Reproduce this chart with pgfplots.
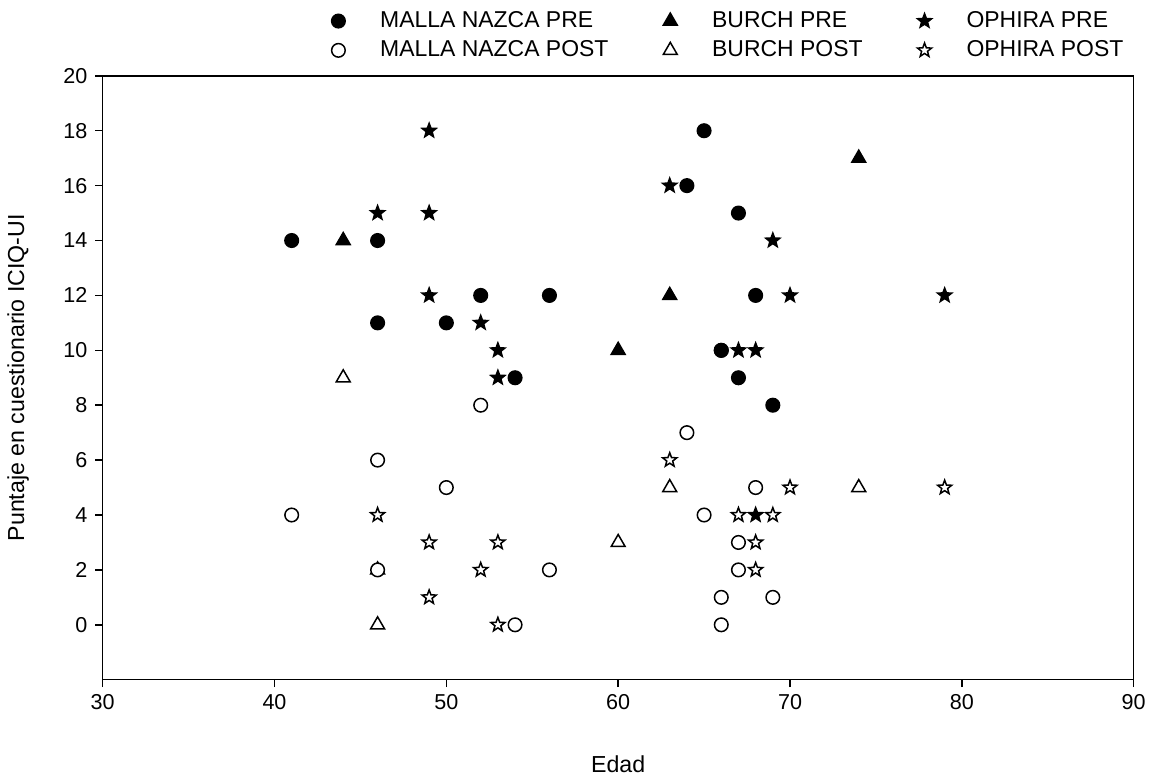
\documentclass[border=0pt]{standalone}
\usepackage{fontspec}
\setmainfont{Liberation Sans}
\usepackage{pgfplots}
\pgfplotsset{compat=1.18}

% five-pointed star mark, filled with the current fill colour
\pgfdeclareplotmark{pstar}{%
  \pgfpathmoveto{\pgfpointpolar{90}{\pgfplotmarksize}}%
  \pgfpathlineto{\pgfpointpolar{126}{0.42\pgfplotmarksize}}%
  \pgfpathlineto{\pgfpointpolar{162}{\pgfplotmarksize}}%
  \pgfpathlineto{\pgfpointpolar{198}{0.42\pgfplotmarksize}}%
  \pgfpathlineto{\pgfpointpolar{234}{\pgfplotmarksize}}%
  \pgfpathlineto{\pgfpointpolar{270}{0.42\pgfplotmarksize}}%
  \pgfpathlineto{\pgfpointpolar{306}{\pgfplotmarksize}}%
  \pgfpathlineto{\pgfpointpolar{342}{0.42\pgfplotmarksize}}%
  \pgfpathlineto{\pgfpointpolar{18}{\pgfplotmarksize}}%
  \pgfpathlineto{\pgfpointpolar{54}{0.42\pgfplotmarksize}}%
  \pgfpathclose
  \pgfusepathqfillstroke}

\begin{document}
\fontsize{11}{13}\selectfont
\begin{tikzpicture}
\begin{axis}[
  scale only axis,
  width=516.5pt, height=302.5pt,
  xmin=30, xmax=90, ymin=-2, ymax=20,
  xtick={30,40,...,90},
  ytick={0,2,...,20},
  tick align=outside,
  xtick pos=bottom, ytick pos=left,
  major tick length=3.75pt,
  axis line style={line width=0.75pt},
  every tick/.style={black, line width=0.75pt},
  /pgf/number format/assume math mode=true,
  tick label style={font=\fontsize{10.8}{13}\selectfont},
  label style={font=\fontsize{11.6}{14}\selectfont},
  xlabel={Edad},
  ylabel={Puntaje en cuestionario ICIQ-UI},
  xlabel style={at={(axis description cs:0.5,-0.1405)}, anchor=center},
  ylabel style={at={(axis description cs:-0.082,0.5)}, anchor=center},
  clip=false,
  legend columns=3,
  legend cell align=left,
  legend style={draw=none, fill=none, inner sep=0pt,
    at={(axis description cs:0.2217,1.114)}, anchor=north west,
    font=\fontsize{11.5}{13.5}\selectfont,
    row sep=1pt,
    /tikz/every odd column/.append style={column sep=15.5pt},
    /tikz/every even column/.append style={column sep=25.5pt}},
  every axis plot/.append style={only marks, black, line width=0.75pt},
]
% MALLA NAZCA PRE
\addplot[mark=*, mark size=3.4pt] coordinates {
 (41,14) (46,14) (46,11) (50,11) (52,12) (56,12) (54,9)
 (65,18) (64,16) (67,15) (68,12) (66,10) (66,10) (67,9) (69,8)};
\addlegendentry{MALLA NAZCA PRE}
% BURCH PRE
\addplot[mark=triangle*, mark size=4pt] coordinates {
 (44,14) (46,2) (60,10) (63,12) (74,17)};
\addlegendentry{BURCH PRE}
% OPHIRA PRE
\addplot[mark=pstar, mark size=3.7pt] coordinates {
 (46,15) (49,18) (49,15) (49,12) (52,11) (53,10) (53,9)
 (63,16) (67,10) (68,10) (68,4) (69,14) (70,12) (79,12)};
\addlegendentry{OPHIRA PRE}
% MALLA NAZCA POST
\addplot[mark=*, mark size=3.4pt, mark options={fill=white}] coordinates {
 (41,4) (46,6) (46,2) (50,5) (52,8) (56,2) (54,0)
 (64,7) (65,4) (67,3) (67,2) (66,1) (66,0) (68,5) (69,1)};
\addlegendentry{MALLA NAZCA POST}
% BURCH POST
\addplot[mark=triangle*, mark size=4pt, mark options={fill=white}] coordinates {
 (44,9) (46,0) (60,3) (63,5) (74,5)};
\addlegendentry{BURCH POST}
% OPHIRA POST
\addplot[mark=pstar, mark size=3.7pt, mark options={fill=white}] coordinates {
 (46,4) (49,3) (49,1) (52,2) (53,3) (53,0)
 (63,6) (67,4) (68,3) (68,2) (69,4) (70,5) (79,5)};
\addlegendentry{OPHIRA POST}
% fixes the page to the reference's frame
\path (rel axis cs:-0.0987,-0.1537) rectangle (rel axis cs:1.0174,1.1256);
\end{axis}
\end{tikzpicture}
\end{document}
